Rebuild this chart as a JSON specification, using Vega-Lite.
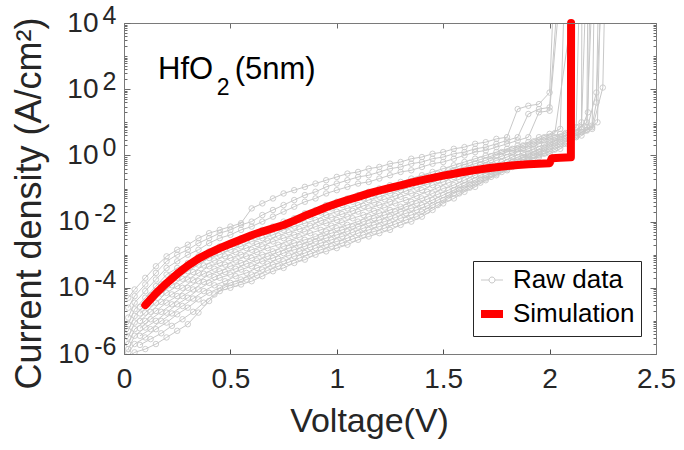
{
  "$schema": "https://vega.github.io/schema/vega-lite/v6.json",
  "width": 532,
  "height": 331,
  "autosize": {"type": "none"},
  "padding": {"left": 124, "top": 23, "right": 28, "bottom": 96},
  "background": "white",
  "config": {
    "view": {"stroke": "#7a7a7a", "strokeWidth": 1},
    "font": "Liberation Sans",
    "axis": {"grid": false, "labelFont": "Liberation Sans", "titleFont": "Liberation Sans", "titleFontWeight": "normal", "labelColor": "#262626", "titleColor": "#262626", "domainColor": "#7a7a7a", "tickColor": "#6a6a6a", "domainWidth": 1, "tickWidth": 1, "labelFlush": false, "labelOverlap": false}
  },
  "datasets": {
    "raw": [
      {"c":1,"v":0.02,"j":5.01e-5},{"c":1,"v":0.05,"j":8.91e-5},{"c":1,"v":0.1,"j":2.0e-4},{"c":1,"v":0.15,"j":4.47e-4},{"c":1,"v":0.2,"j":8.91e-4},{"c":1,"v":0.25,"j":1.41e-3},{"c":1,"v":0.3,"j":2.0e-3},{"c":1,"v":0.35,"j":3.16e-3},{"c":1,"v":0.4,"j":4.47e-3},{"c":1,"v":0.45,"j":5.62e-3},{"c":1,"v":0.5,"j":7.08e-3},{"c":1,"v":0.55,"j":8.91e-3},{"c":1,"v":0.6,"j":2.51e-2},{"c":1,"v":0.65,"j":3.55e-2},{"c":1,"v":0.7,"j":5.01e-2},{"c":1,"v":0.75,"j":7.08e-2},{"c":1,"v":0.8,"j":8.91e-2},{"c":1,"v":0.85,"j":0.112},{"c":1,"v":0.9,"j":0.141},{"c":1,"v":0.95,"j":0.178},{"c":1,"v":1.0,"j":0.224},{"c":1,"v":1.05,"j":0.282},{"c":1,"v":1.1,"j":0.316},{"c":1,"v":1.15,"j":0.398},{"c":1,"v":1.2,"j":0.447},{"c":1,"v":1.25,"j":0.562},{"c":1,"v":1.3,"j":0.631},{"c":1,"v":1.35,"j":0.794},{"c":1,"v":1.4,"j":0.891},{"c":1,"v":1.45,"j":1.12},{"c":1,"v":1.5,"j":1.26},{"c":1,"v":1.55,"j":1.58},{"c":1,"v":1.6,"j":1.78},{"c":1,"v":1.65,"j":2.24},{"c":1,"v":1.7,"j":2.51},{"c":1,"v":1.75,"j":3.16},{"c":1,"v":1.8,"j":3.55},{"c":1,"v":1.85,"j":25.1},{"c":1,"v":1.9,"j":31.6},{"c":1,"v":1.95,"j":35.5},{"c":1,"v":2.0,"j":79.4},{"c":1,"v":2.02,"j":1e5},
      {"c":2,"v":0.02,"j":2.51e-5},{"c":2,"v":0.05,"j":5.62e-5},{"c":2,"v":0.1,"j":1.26e-4},{"c":2,"v":0.15,"j":2.82e-4},{"c":2,"v":0.2,"j":6.31e-4},{"c":2,"v":0.25,"j":1.0e-3},{"c":2,"v":0.3,"j":1.41e-3},{"c":2,"v":0.35,"j":2.24e-3},{"c":2,"v":0.4,"j":3.16e-3},{"c":2,"v":0.45,"j":4.47e-3},{"c":2,"v":0.5,"j":5.62e-3},{"c":2,"v":0.55,"j":7.94e-3},{"c":2,"v":0.6,"j":1.0e-2},{"c":2,"v":0.65,"j":1.58e-2},{"c":2,"v":0.7,"j":2.24e-2},{"c":2,"v":0.75,"j":3.16e-2},{"c":2,"v":0.8,"j":4.47e-2},{"c":2,"v":0.85,"j":6.31e-2},{"c":2,"v":0.9,"j":7.94e-2},{"c":2,"v":0.95,"j":0.112},{"c":2,"v":1.0,"j":0.141},{"c":2,"v":1.05,"j":0.178},{"c":2,"v":1.1,"j":0.224},{"c":2,"v":1.15,"j":0.251},{"c":2,"v":1.2,"j":0.316},{"c":2,"v":1.25,"j":0.398},{"c":2,"v":1.3,"j":0.447},{"c":2,"v":1.35,"j":0.562},{"c":2,"v":1.4,"j":0.631},{"c":2,"v":1.45,"j":0.794},{"c":2,"v":1.5,"j":0.891},{"c":2,"v":1.55,"j":1.12},{"c":2,"v":1.6,"j":1.26},{"c":2,"v":1.65,"j":1.58},{"c":2,"v":1.7,"j":1.78},{"c":2,"v":1.75,"j":2.24},{"c":2,"v":1.8,"j":2.82},{"c":2,"v":1.85,"j":3.55},{"c":2,"v":1.9,"j":17.8},{"c":2,"v":1.95,"j":25.1},{"c":2,"v":2.0,"j":28.2},{"c":2,"v":2.04,"j":1e5},
      {"c":3,"v":0.02,"j":1.26e-5},{"c":3,"v":0.05,"j":3.55e-5},{"c":3,"v":0.1,"j":7.94e-5},{"c":3,"v":0.15,"j":1.78e-4},{"c":3,"v":0.2,"j":3.98e-4},{"c":3,"v":0.25,"j":6.31e-4},{"c":3,"v":0.3,"j":1.0e-3},{"c":3,"v":0.35,"j":1.41e-3},{"c":3,"v":0.4,"j":2.24e-3},{"c":3,"v":0.45,"j":3.16e-3},{"c":3,"v":0.5,"j":3.98e-3},{"c":3,"v":0.55,"j":5.62e-3},{"c":3,"v":0.6,"j":7.08e-3},{"c":3,"v":0.65,"j":1.0e-2},{"c":3,"v":0.7,"j":1.41e-2},{"c":3,"v":0.75,"j":2.0e-2},{"c":3,"v":0.8,"j":2.82e-2},{"c":3,"v":0.85,"j":3.98e-2},{"c":3,"v":0.9,"j":5.01e-2},{"c":3,"v":0.95,"j":7.08e-2},{"c":3,"v":1.0,"j":8.91e-2},{"c":3,"v":1.05,"j":0.112},{"c":3,"v":1.1,"j":0.141},{"c":3,"v":1.15,"j":0.158},{"c":3,"v":1.2,"j":0.2},{"c":3,"v":1.25,"j":0.251},{"c":3,"v":1.3,"j":0.316},{"c":3,"v":1.35,"j":0.355},{"c":3,"v":1.4,"j":0.447},{"c":3,"v":1.45,"j":0.562},{"c":3,"v":1.5,"j":0.631},{"c":3,"v":1.55,"j":0.794},{"c":3,"v":1.6,"j":1.0},{"c":3,"v":1.65,"j":1.26},{"c":3,"v":1.7,"j":1.41},{"c":3,"v":1.75,"j":1.78},{"c":3,"v":1.8,"j":2.24},{"c":3,"v":1.85,"j":2.82},{"c":3,"v":1.9,"j":3.55},{"c":3,"v":1.95,"j":20.0},{"c":3,"v":2.0,"j":22.4},{"c":3,"v":2.05,"j":1e5},
      {"c":4,"v":0.02,"j":7.94e-6},{"c":4,"v":0.05,"j":2.24e-5},{"c":4,"v":0.1,"j":5.01e-5},{"c":4,"v":0.15,"j":1.12e-4},{"c":4,"v":0.2,"j":2.51e-4},{"c":4,"v":0.25,"j":3.98e-4},{"c":4,"v":0.3,"j":5.62e-4},{"c":4,"v":0.35,"j":8.91e-4},{"c":4,"v":0.4,"j":1.26e-3},{"c":4,"v":0.45,"j":1.78e-3},{"c":4,"v":0.5,"j":2.24e-3},{"c":4,"v":0.55,"j":3.16e-3},{"c":4,"v":0.6,"j":3.98e-3},{"c":4,"v":0.65,"j":5.62e-3},{"c":4,"v":0.7,"j":7.08e-3},{"c":4,"v":0.75,"j":1.0e-2},{"c":4,"v":0.8,"j":1.26e-2},{"c":4,"v":0.85,"j":1.78e-2},{"c":4,"v":0.9,"j":2.24e-2},{"c":4,"v":0.95,"j":3.16e-2},{"c":4,"v":1.0,"j":3.98e-2},{"c":4,"v":1.05,"j":5.01e-2},{"c":4,"v":1.1,"j":6.31e-2},{"c":4,"v":1.15,"j":7.94e-2},{"c":4,"v":1.2,"j":0.1},{"c":4,"v":1.25,"j":0.126},{"c":4,"v":1.3,"j":0.158},{"c":4,"v":1.35,"j":0.2},{"c":4,"v":1.4,"j":0.251},{"c":4,"v":1.45,"j":0.316},{"c":4,"v":1.5,"j":0.398},{"c":4,"v":1.55,"j":0.501},{"c":4,"v":1.6,"j":0.631},{"c":4,"v":1.65,"j":0.794},{"c":4,"v":1.7,"j":1.0},{"c":4,"v":1.75,"j":1.26},{"c":4,"v":1.8,"j":1.58},{"c":4,"v":1.85,"j":2.0},{"c":4,"v":1.9,"j":2.51},{"c":4,"v":1.95,"j":3.55},{"c":4,"v":2.0,"j":4.47},{"c":4,"v":2.05,"j":6.31},{"c":4,"v":2.07,"j":1e5},
      {"c":5,"v":0.02,"j":5.01e-6},{"c":5,"v":0.05,"j":1.41e-5},{"c":5,"v":0.1,"j":3.16e-5},{"c":5,"v":0.15,"j":6.31e-5},{"c":5,"v":0.2,"j":1.26e-4},{"c":5,"v":0.25,"j":2.0e-4},{"c":5,"v":0.3,"j":3.16e-4},{"c":5,"v":0.35,"j":5.01e-4},{"c":5,"v":0.4,"j":7.94e-4},{"c":5,"v":0.45,"j":1.0e-3},{"c":5,"v":0.5,"j":1.41e-3},{"c":5,"v":0.55,"j":1.78e-3},{"c":5,"v":0.6,"j":2.51e-3},{"c":5,"v":0.65,"j":3.16e-3},{"c":5,"v":0.7,"j":3.98e-3},{"c":5,"v":0.75,"j":5.62e-3},{"c":5,"v":0.8,"j":7.08e-3},{"c":5,"v":0.85,"j":8.91e-3},{"c":5,"v":0.9,"j":1.12e-2},{"c":5,"v":0.95,"j":1.58e-2},{"c":5,"v":1.0,"j":2.0e-2},{"c":5,"v":1.05,"j":2.51e-2},{"c":5,"v":1.1,"j":3.16e-2},{"c":5,"v":1.15,"j":4.47e-2},{"c":5,"v":1.2,"j":5.62e-2},{"c":5,"v":1.25,"j":7.08e-2},{"c":5,"v":1.3,"j":8.91e-2},{"c":5,"v":1.35,"j":0.126},{"c":5,"v":1.4,"j":0.158},{"c":5,"v":1.45,"j":0.2},{"c":5,"v":1.5,"j":0.251},{"c":5,"v":1.55,"j":0.355},{"c":5,"v":1.6,"j":0.447},{"c":5,"v":1.65,"j":0.562},{"c":5,"v":1.7,"j":0.708},{"c":5,"v":1.75,"j":1.0},{"c":5,"v":1.8,"j":1.26},{"c":5,"v":1.85,"j":1.58},{"c":5,"v":1.9,"j":2.0},{"c":5,"v":1.95,"j":2.82},{"c":5,"v":2.0,"j":3.55},{"c":5,"v":2.05,"j":4.47},{"c":5,"v":2.1,"j":6.31},{"c":5,"v":2.15,"j":10.0},{"c":5,"v":2.152,"j":1e5},
      {"c":6,"v":0.02,"j":3.16e-6},{"c":6,"v":0.05,"j":8.91e-6},{"c":6,"v":0.1,"j":1.78e-5},{"c":6,"v":0.15,"j":3.55e-5},{"c":6,"v":0.2,"j":7.08e-5},{"c":6,"v":0.25,"j":1.12e-4},{"c":6,"v":0.3,"j":1.78e-4},{"c":6,"v":0.35,"j":2.82e-4},{"c":6,"v":0.4,"j":4.47e-4},{"c":6,"v":0.45,"j":5.62e-4},{"c":6,"v":0.5,"j":7.94e-4},{"c":6,"v":0.55,"j":1.0e-3},{"c":6,"v":0.6,"j":1.41e-3},{"c":6,"v":0.65,"j":1.78e-3},{"c":6,"v":0.7,"j":2.51e-3},{"c":6,"v":0.75,"j":3.16e-3},{"c":6,"v":0.8,"j":3.98e-3},{"c":6,"v":0.85,"j":5.01e-3},{"c":6,"v":0.9,"j":7.08e-3},{"c":6,"v":0.95,"j":8.91e-3},{"c":6,"v":1.0,"j":1.12e-2},{"c":6,"v":1.05,"j":1.41e-2},{"c":6,"v":1.1,"j":2.0e-2},{"c":6,"v":1.15,"j":2.51e-2},{"c":6,"v":1.2,"j":3.16e-2},{"c":6,"v":1.25,"j":3.98e-2},{"c":6,"v":1.3,"j":5.62e-2},{"c":6,"v":1.35,"j":7.08e-2},{"c":6,"v":1.4,"j":8.91e-2},{"c":6,"v":1.45,"j":0.126},{"c":6,"v":1.5,"j":0.158},{"c":6,"v":1.55,"j":0.224},{"c":6,"v":1.6,"j":0.282},{"c":6,"v":1.65,"j":0.398},{"c":6,"v":1.7,"j":0.501},{"c":6,"v":1.75,"j":0.708},{"c":6,"v":1.8,"j":0.891},{"c":6,"v":1.85,"j":1.26},{"c":6,"v":1.9,"j":1.58},{"c":6,"v":1.95,"j":2.24},{"c":6,"v":2.0,"j":2.82},{"c":6,"v":2.05,"j":3.55},{"c":6,"v":2.1,"j":5.01},{"c":6,"v":2.15,"j":7.08},{"c":6,"v":2.17,"j":1e5},
      {"c":7,"v":0.02,"j":2.0e-6},{"c":7,"v":0.05,"j":5.62e-6},{"c":7,"v":0.1,"j":1.0e-5},{"c":7,"v":0.15,"j":2.0e-5},{"c":7,"v":0.2,"j":3.55e-5},{"c":7,"v":0.25,"j":5.62e-5},{"c":7,"v":0.3,"j":1.0e-4},{"c":7,"v":0.35,"j":1.58e-4},{"c":7,"v":0.4,"j":2.51e-4},{"c":7,"v":0.45,"j":3.16e-4},{"c":7,"v":0.5,"j":4.47e-4},{"c":7,"v":0.55,"j":5.62e-4},{"c":7,"v":0.6,"j":7.94e-4},{"c":7,"v":0.65,"j":1.0e-3},{"c":7,"v":0.7,"j":1.26e-3},{"c":7,"v":0.75,"j":1.78e-3},{"c":7,"v":0.8,"j":2.24e-3},{"c":7,"v":0.85,"j":2.82e-3},{"c":7,"v":0.9,"j":3.55e-3},{"c":7,"v":0.95,"j":5.01e-3},{"c":7,"v":1.0,"j":6.31e-3},{"c":7,"v":1.05,"j":7.94e-3},{"c":7,"v":1.1,"j":1.0e-2},{"c":7,"v":1.15,"j":1.41e-2},{"c":7,"v":1.2,"j":1.78e-2},{"c":7,"v":1.25,"j":2.24e-2},{"c":7,"v":1.3,"j":2.82e-2},{"c":7,"v":1.35,"j":3.98e-2},{"c":7,"v":1.4,"j":5.01e-2},{"c":7,"v":1.45,"j":7.08e-2},{"c":7,"v":1.5,"j":0.1},{"c":7,"v":1.55,"j":0.126},{"c":7,"v":1.6,"j":0.178},{"c":7,"v":1.65,"j":0.251},{"c":7,"v":1.7,"j":0.355},{"c":7,"v":1.75,"j":0.447},{"c":7,"v":1.8,"j":0.631},{"c":7,"v":1.85,"j":0.891},{"c":7,"v":1.9,"j":1.12},{"c":7,"v":1.95,"j":1.58},{"c":7,"v":2.0,"j":2.24},{"c":7,"v":2.05,"j":3.16},{"c":7,"v":2.1,"j":4.47},{"c":7,"v":2.15,"j":6.31},{"c":7,"v":2.18,"j":20.0},{"c":7,"v":2.19,"j":1e5},
      {"c":8,"v":0.02,"j":1.41e-6},{"c":8,"v":0.05,"j":3.55e-6},{"c":8,"v":0.1,"j":6.31e-6},{"c":8,"v":0.15,"j":1.0e-5},{"c":8,"v":0.2,"j":1.78e-5},{"c":8,"v":0.25,"j":3.16e-5},{"c":8,"v":0.3,"j":5.01e-5},{"c":8,"v":0.35,"j":8.91e-5},{"c":8,"v":0.4,"j":1.41e-4},{"c":8,"v":0.45,"j":2.0e-4},{"c":8,"v":0.5,"j":2.51e-4},{"c":8,"v":0.55,"j":3.55e-4},{"c":8,"v":0.6,"j":4.47e-4},{"c":8,"v":0.65,"j":6.31e-4},{"c":8,"v":0.7,"j":7.94e-4},{"c":8,"v":0.75,"j":1.12e-3},{"c":8,"v":0.8,"j":1.41e-3},{"c":8,"v":0.85,"j":1.78e-3},{"c":8,"v":0.9,"j":2.51e-3},{"c":8,"v":0.95,"j":3.16e-3},{"c":8,"v":1.0,"j":3.98e-3},{"c":8,"v":1.05,"j":5.01e-3},{"c":8,"v":1.1,"j":7.08e-3},{"c":8,"v":1.15,"j":8.91e-3},{"c":8,"v":1.2,"j":1.12e-2},{"c":8,"v":1.25,"j":1.41e-2},{"c":8,"v":1.3,"j":2.0e-2},{"c":8,"v":1.35,"j":2.51e-2},{"c":8,"v":1.4,"j":3.16e-2},{"c":8,"v":1.45,"j":4.47e-2},{"c":8,"v":1.5,"j":6.31e-2},{"c":8,"v":1.55,"j":8.91e-2},{"c":8,"v":1.6,"j":0.126},{"c":8,"v":1.65,"j":0.178},{"c":8,"v":1.7,"j":0.251},{"c":8,"v":1.75,"j":0.355},{"c":8,"v":1.8,"j":0.501},{"c":8,"v":1.85,"j":0.708},{"c":8,"v":1.9,"j":1.0},{"c":8,"v":1.95,"j":1.26},{"c":8,"v":2.0,"j":1.78},{"c":8,"v":2.05,"j":2.51},{"c":8,"v":2.1,"j":3.55},{"c":8,"v":2.15,"j":5.01},{"c":8,"v":2.2,"j":7.08},{"c":8,"v":2.21,"j":1e5},
      {"c":9,"v":0.02,"j":1.12e-6},{"c":9,"v":0.05,"j":2.0e-6},{"c":9,"v":0.1,"j":3.16e-6},{"c":9,"v":0.15,"j":5.62e-6},{"c":9,"v":0.2,"j":8.91e-6},{"c":9,"v":0.25,"j":1.58e-5},{"c":9,"v":0.3,"j":2.51e-5},{"c":9,"v":0.35,"j":4.47e-5},{"c":9,"v":0.4,"j":7.08e-5},{"c":9,"v":0.45,"j":1.0e-4},{"c":9,"v":0.5,"j":1.41e-4},{"c":9,"v":0.55,"j":1.78e-4},{"c":9,"v":0.6,"j":2.51e-4},{"c":9,"v":0.65,"j":3.55e-4},{"c":9,"v":0.7,"j":5.01e-4},{"c":9,"v":0.75,"j":6.31e-4},{"c":9,"v":0.8,"j":8.91e-4},{"c":9,"v":0.85,"j":1.12e-3},{"c":9,"v":0.9,"j":1.58e-3},{"c":9,"v":0.95,"j":2.0e-3},{"c":9,"v":1.0,"j":2.51e-3},{"c":9,"v":1.05,"j":3.16e-3},{"c":9,"v":1.1,"j":4.47e-3},{"c":9,"v":1.15,"j":5.62e-3},{"c":9,"v":1.2,"j":7.08e-3},{"c":9,"v":1.25,"j":8.91e-3},{"c":9,"v":1.3,"j":1.26e-2},{"c":9,"v":1.35,"j":1.58e-2},{"c":9,"v":1.4,"j":2.0e-2},{"c":9,"v":1.45,"j":3.16e-2},{"c":9,"v":1.5,"j":4.47e-2},{"c":9,"v":1.55,"j":7.08e-2},{"c":9,"v":1.6,"j":0.1},{"c":9,"v":1.65,"j":0.141},{"c":9,"v":1.7,"j":0.2},{"c":9,"v":1.75,"j":0.282},{"c":9,"v":1.8,"j":0.398},{"c":9,"v":1.85,"j":0.562},{"c":9,"v":1.9,"j":0.794},{"c":9,"v":1.95,"j":1.0},{"c":9,"v":2.0,"j":1.41},{"c":9,"v":2.05,"j":2.0},{"c":9,"v":2.1,"j":3.16},{"c":9,"v":2.15,"j":5.01},{"c":9,"v":2.2,"j":7.94},{"c":9,"v":2.22,"j":39.8},{"c":9,"v":2.23,"j":1e5},
      {"c":10,"v":0.02,"j":7.94e-7},{"c":10,"v":0.05,"j":1.12e-6},{"c":10,"v":0.1,"j":1.41e-6},{"c":10,"v":0.15,"j":2.0e-6},{"c":10,"v":0.2,"j":3.16e-6},{"c":10,"v":0.25,"j":5.01e-6},{"c":10,"v":0.3,"j":7.94e-6},{"c":10,"v":0.35,"j":1.78e-5},{"c":10,"v":0.4,"j":3.98e-5},{"c":10,"v":0.45,"j":7.94e-5},{"c":10,"v":0.5,"j":1.0e-4},{"c":10,"v":0.55,"j":1.26e-4},{"c":10,"v":0.6,"j":1.58e-4},{"c":10,"v":0.65,"j":2.24e-4},{"c":10,"v":0.7,"j":3.16e-4},{"c":10,"v":0.75,"j":3.98e-4},{"c":10,"v":0.8,"j":5.62e-4},{"c":10,"v":0.85,"j":7.08e-4},{"c":10,"v":0.9,"j":1.0e-3},{"c":10,"v":0.95,"j":1.26e-3},{"c":10,"v":1.0,"j":1.58e-3},{"c":10,"v":1.05,"j":2.0e-3},{"c":10,"v":1.1,"j":2.82e-3},{"c":10,"v":1.15,"j":3.55e-3},{"c":10,"v":1.2,"j":4.47e-3},{"c":10,"v":1.25,"j":5.62e-3},{"c":10,"v":1.3,"j":7.94e-3},{"c":10,"v":1.35,"j":1.0e-2},{"c":10,"v":1.4,"j":1.41e-2},{"c":10,"v":1.45,"j":2.24e-2},{"c":10,"v":1.5,"j":3.55e-2},{"c":10,"v":1.55,"j":5.01e-2},{"c":10,"v":1.6,"j":7.94e-2},{"c":10,"v":1.65,"j":0.112},{"c":10,"v":1.7,"j":0.178},{"c":10,"v":1.75,"j":0.251},{"c":10,"v":1.8,"j":0.355},{"c":10,"v":1.85,"j":0.501},{"c":10,"v":1.9,"j":0.708},{"c":10,"v":1.95,"j":0.891},{"c":10,"v":2.0,"j":1.12},{"c":10,"v":2.05,"j":1.58},{"c":10,"v":2.1,"j":2.51},{"c":10,"v":2.15,"j":3.98},{"c":10,"v":2.2,"j":6.31},{"c":10,"v":2.25,"j":112},{"c":10,"v":2.26,"j":1e5},
      {"c":11,"v":0.075,"j":2.66e-5},{"c":11,"v":0.125,"j":5.96e-5},{"c":11,"v":0.175,"j":1.26e-4},{"c":11,"v":0.225,"j":2.24e-4},{"c":11,"v":0.275,"j":3.35e-4},{"c":11,"v":0.325,"j":5.31e-4},{"c":11,"v":0.375,"j":7.94e-4},{"c":11,"v":0.425,"j":1.19e-3},{"c":11,"v":0.475,"j":1.5e-3},{"c":11,"v":0.525,"j":2.11e-3},{"c":11,"v":0.575,"j":2.66e-3},{"c":11,"v":0.625,"j":3.76e-3},{"c":11,"v":0.675,"j":4.73e-3},{"c":11,"v":0.725,"j":6.31e-3},{"c":11,"v":0.775,"j":8.41e-3},{"c":11,"v":0.825,"j":1.12e-2},{"c":11,"v":0.875,"j":1.41e-2},{"c":11,"v":0.925,"j":1.88e-2},{"c":11,"v":0.975,"j":2.51e-2},{"c":11,"v":1.025,"j":3.16e-2},{"c":11,"v":1.075,"j":3.98e-2},{"c":11,"v":1.125,"j":5.01e-2},{"c":11,"v":1.175,"j":6.68e-2},{"c":11,"v":1.225,"j":8.41e-2},{"c":11,"v":1.275,"j":0.106},{"c":11,"v":1.325,"j":0.133},{"c":11,"v":1.375,"j":0.178},{"c":11,"v":1.425,"j":0.224},{"c":11,"v":1.475,"j":0.282},{"c":11,"v":1.525,"j":0.355},{"c":11,"v":1.575,"j":0.473},{"c":11,"v":1.625,"j":0.596},{"c":11,"v":1.675,"j":0.75},{"c":11,"v":1.725,"j":0.944},{"c":11,"v":1.775,"j":1.26},{"c":11,"v":1.825,"j":1.58},{"c":11,"v":1.875,"j":2.0},{"c":11,"v":1.925,"j":2.66},{"c":11,"v":1.975,"j":3.55},{"c":11,"v":2.025,"j":4.73},{"c":11,"v":2.12,"j":1e5},
      {"c":12,"v":0.075,"j":1.68e-5},{"c":12,"v":0.125,"j":3.35e-5},{"c":12,"v":0.175,"j":6.68e-5},{"c":12,"v":0.225,"j":1.19e-4},{"c":12,"v":0.275,"j":1.88e-4},{"c":12,"v":0.325,"j":2.99e-4},{"c":12,"v":0.375,"j":4.73e-4},{"c":12,"v":0.425,"j":6.68e-4},{"c":12,"v":0.475,"j":8.91e-4},{"c":12,"v":0.525,"j":1.19e-3},{"c":12,"v":0.575,"j":1.58e-3},{"c":12,"v":0.625,"j":2.11e-3},{"c":12,"v":0.675,"j":2.66e-3},{"c":12,"v":0.725,"j":3.76e-3},{"c":12,"v":0.775,"j":4.73e-3},{"c":12,"v":0.825,"j":5.96e-3},{"c":12,"v":0.875,"j":7.5e-3},{"c":12,"v":0.925,"j":1.06e-2},{"c":12,"v":0.975,"j":1.33e-2},{"c":12,"v":1.025,"j":1.68e-2},{"c":12,"v":1.075,"j":2.11e-2},{"c":12,"v":1.125,"j":2.99e-2},{"c":12,"v":1.175,"j":3.76e-2},{"c":12,"v":1.225,"j":4.73e-2},{"c":12,"v":1.275,"j":5.96e-2},{"c":12,"v":1.325,"j":8.41e-2},{"c":12,"v":1.375,"j":0.106},{"c":12,"v":1.425,"j":0.133},{"c":12,"v":1.475,"j":0.178},{"c":12,"v":1.525,"j":0.237},{"c":12,"v":1.575,"j":0.316},{"c":12,"v":1.625,"j":0.398},{"c":12,"v":1.675,"j":0.531},{"c":12,"v":1.725,"j":0.708},{"c":12,"v":1.775,"j":0.944},{"c":12,"v":1.825,"j":1.19},{"c":12,"v":1.875,"j":1.58},{"c":12,"v":1.925,"j":2.11},{"c":12,"v":1.975,"j":2.82},{"c":12,"v":2.025,"j":3.55},{"c":12,"v":2.075,"j":4.73},{"c":12,"v":2.125,"j":7.08},{"c":12,"v":2.14,"j":1e5},
      {"c":13,"v":0.075,"j":1.0e-5},{"c":13,"v":0.125,"j":1.88e-5},{"c":13,"v":0.175,"j":3.76e-5},{"c":13,"v":0.225,"j":6.31e-5},{"c":13,"v":0.275,"j":1.0e-4},{"c":13,"v":0.325,"j":1.68e-4},{"c":13,"v":0.375,"j":2.66e-4},{"c":13,"v":0.425,"j":3.76e-4},{"c":13,"v":0.475,"j":5.01e-4},{"c":13,"v":0.525,"j":6.68e-4},{"c":13,"v":0.575,"j":8.91e-4},{"c":13,"v":0.625,"j":1.19e-3},{"c":13,"v":0.675,"j":1.58e-3},{"c":13,"v":0.725,"j":2.0e-3},{"c":13,"v":0.775,"j":2.66e-3},{"c":13,"v":0.825,"j":3.35e-3},{"c":13,"v":0.875,"j":4.47e-3},{"c":13,"v":0.925,"j":5.62e-3},{"c":13,"v":0.975,"j":7.5e-3},{"c":13,"v":1.025,"j":9.44e-3},{"c":13,"v":1.075,"j":1.26e-2},{"c":13,"v":1.125,"j":1.58e-2},{"c":13,"v":1.175,"j":2.11e-2},{"c":13,"v":1.225,"j":2.66e-2},{"c":13,"v":1.275,"j":3.55e-2},{"c":13,"v":1.325,"j":4.47e-2},{"c":13,"v":1.375,"j":5.96e-2},{"c":13,"v":1.425,"j":7.94e-2},{"c":13,"v":1.475,"j":0.106},{"c":13,"v":1.525,"j":0.15},{"c":13,"v":1.575,"j":0.188},{"c":13,"v":1.625,"j":0.266},{"c":13,"v":1.675,"j":0.355},{"c":13,"v":1.725,"j":0.501},{"c":13,"v":1.775,"j":0.631},{"c":13,"v":1.825,"j":0.891},{"c":13,"v":1.875,"j":1.19},{"c":13,"v":1.925,"j":1.58},{"c":13,"v":1.975,"j":2.11},{"c":13,"v":2.025,"j":2.82},{"c":13,"v":2.075,"j":3.98},{"c":13,"v":2.125,"j":5.62},{"c":13,"v":2.175,"j":10.0},{"c":13,"v":2.18,"j":1e5},
      {"c":14,"v":0.075,"j":5.96e-6},{"c":14,"v":0.125,"j":1.12e-5},{"c":14,"v":0.175,"j":1.88e-5},{"c":14,"v":0.225,"j":3.16e-5},{"c":14,"v":0.275,"j":5.62e-5},{"c":14,"v":0.325,"j":8.91e-5},{"c":14,"v":0.375,"j":1.5e-4},{"c":14,"v":0.425,"j":2.11e-4},{"c":14,"v":0.475,"j":2.99e-4},{"c":14,"v":0.525,"j":3.76e-4},{"c":14,"v":0.575,"j":5.31e-4},{"c":14,"v":0.625,"j":6.68e-4},{"c":14,"v":0.675,"j":8.91e-4},{"c":14,"v":0.725,"j":1.19e-3},{"c":14,"v":0.775,"j":1.58e-3},{"c":14,"v":0.825,"j":2.0e-3},{"c":14,"v":0.875,"j":2.51e-3},{"c":14,"v":0.925,"j":3.55e-3},{"c":14,"v":0.975,"j":4.47e-3},{"c":14,"v":1.025,"j":5.62e-3},{"c":14,"v":1.075,"j":7.08e-3},{"c":14,"v":1.125,"j":1.0e-2},{"c":14,"v":1.175,"j":1.26e-2},{"c":14,"v":1.225,"j":1.58e-2},{"c":14,"v":1.275,"j":2.0e-2},{"c":14,"v":1.325,"j":2.82e-2},{"c":14,"v":1.375,"j":3.55e-2},{"c":14,"v":1.425,"j":4.73e-2},{"c":14,"v":1.475,"j":6.68e-2},{"c":14,"v":1.525,"j":8.91e-2},{"c":14,"v":1.575,"j":0.126},{"c":14,"v":1.625,"j":0.178},{"c":14,"v":1.675,"j":0.251},{"c":14,"v":1.725,"j":0.335},{"c":14,"v":1.775,"j":0.473},{"c":14,"v":1.825,"j":0.668},{"c":14,"v":1.875,"j":0.891},{"c":14,"v":1.925,"j":1.26},{"c":14,"v":1.975,"j":1.68},{"c":14,"v":2.025,"j":2.37},{"c":14,"v":2.075,"j":3.35},{"c":14,"v":2.125,"j":4.73},{"c":14,"v":2.175,"j":7.08},{"c":14,"v":2.2,"j":1e5},
      {"c":15,"v":0.075,"j":3.55e-6},{"c":15,"v":0.125,"j":5.62e-6},{"c":15,"v":0.175,"j":1.0e-5},{"c":15,"v":0.225,"j":1.68e-5},{"c":15,"v":0.275,"j":2.82e-5},{"c":15,"v":0.325,"j":4.73e-5},{"c":15,"v":0.375,"j":7.94e-5},{"c":15,"v":0.425,"j":1.19e-4},{"c":15,"v":0.475,"j":1.58e-4},{"c":15,"v":0.525,"j":2.24e-4},{"c":15,"v":0.575,"j":2.82e-4},{"c":15,"v":0.625,"j":3.98e-4},{"c":15,"v":0.675,"j":5.31e-4},{"c":15,"v":0.725,"j":7.5e-4},{"c":15,"v":0.775,"j":9.44e-4},{"c":15,"v":0.825,"j":1.26e-3},{"c":15,"v":0.875,"j":1.68e-3},{"c":15,"v":0.925,"j":2.24e-3},{"c":15,"v":0.975,"j":2.82e-3},{"c":15,"v":1.025,"j":3.55e-3},{"c":15,"v":1.075,"j":4.73e-3},{"c":15,"v":1.125,"j":6.31e-3},{"c":15,"v":1.175,"j":7.94e-3},{"c":15,"v":1.225,"j":1.0e-2},{"c":15,"v":1.275,"j":1.33e-2},{"c":15,"v":1.325,"j":1.78e-2},{"c":15,"v":1.375,"j":2.24e-2},{"c":15,"v":1.425,"j":2.99e-2},{"c":15,"v":1.475,"j":4.47e-2},{"c":15,"v":1.525,"j":6.31e-2},{"c":15,"v":1.575,"j":9.44e-2},{"c":15,"v":1.625,"j":0.133},{"c":15,"v":1.675,"j":0.188},{"c":15,"v":1.725,"j":0.266},{"c":15,"v":1.775,"j":0.376},{"c":15,"v":1.825,"j":0.531},{"c":15,"v":1.875,"j":0.75},{"c":15,"v":1.925,"j":1.0},{"c":15,"v":1.975,"j":1.33},{"c":15,"v":2.025,"j":1.88},{"c":15,"v":2.075,"j":2.66},{"c":15,"v":2.125,"j":3.98},{"c":15,"v":2.175,"j":5.96},{"c":15,"v":2.22,"j":79.4},{"c":15,"v":2.245,"j":1e5},
      {"c":16,"v":0.075,"j":1.88e-6},{"c":16,"v":0.125,"j":2.82e-6},{"c":16,"v":0.175,"j":4.22e-6},{"c":16,"v":0.225,"j":7.08e-6},{"c":16,"v":0.275,"j":1.12e-5},{"c":16,"v":0.325,"j":1.88e-5},{"c":16,"v":0.375,"j":3.55e-5},{"c":16,"v":0.425,"j":6.31e-5},{"c":16,"v":0.475,"j":1.06e-4},{"c":16,"v":0.525,"j":1.33e-4},{"c":16,"v":0.575,"j":1.78e-4},{"c":16,"v":0.625,"j":2.37e-4},{"c":16,"v":0.675,"j":3.35e-4},{"c":16,"v":0.725,"j":4.47e-4},{"c":16,"v":0.775,"j":5.96e-4},{"c":16,"v":0.825,"j":7.94e-4},{"c":16,"v":0.875,"j":1.06e-3},{"c":16,"v":0.925,"j":1.41e-3},{"c":16,"v":0.975,"j":1.78e-3},{"c":16,"v":1.025,"j":2.24e-3},{"c":16,"v":1.075,"j":2.99e-3},{"c":16,"v":1.125,"j":3.98e-3},{"c":16,"v":1.175,"j":5.01e-3},{"c":16,"v":1.225,"j":6.31e-3},{"c":16,"v":1.275,"j":8.41e-3},{"c":16,"v":1.325,"j":1.12e-2},{"c":16,"v":1.375,"j":1.41e-2},{"c":16,"v":1.425,"j":2.11e-2},{"c":16,"v":1.475,"j":3.16e-2},{"c":16,"v":1.525,"j":5.01e-2},{"c":16,"v":1.575,"j":7.08e-2},{"c":16,"v":1.625,"j":0.106},{"c":16,"v":1.675,"j":0.15},{"c":16,"v":1.725,"j":0.224},{"c":16,"v":1.775,"j":0.316},{"c":16,"v":1.825,"j":0.447},{"c":16,"v":1.875,"j":0.631},{"c":16,"v":1.925,"j":0.841},{"c":16,"v":1.975,"j":1.12},{"c":16,"v":2.025,"j":1.5},{"c":16,"v":2.075,"j":2.24},{"c":16,"v":2.125,"j":3.55},{"c":16,"v":2.175,"j":5.62},{"c":16,"v":2.225,"j":10.0},{"c":16,"v":2.24,"j":1e5}
    ],
    "sim": [
      {"v":0.1,"j":3.0e-5},{"v":0.15,"j":6.8e-5},{"v":0.2,"j":1.38e-4},{"v":0.25,"j":2.63e-4},{"v":0.3,"j":4.68e-4},{"v":0.35,"j":7.6e-4},{"v":0.4,"j":1.12e-3},{"v":0.45,"j":1.58e-3},{"v":0.5,"j":2.14e-3},{"v":0.55,"j":2.88e-3},{"v":0.6,"j":3.89e-3},{"v":0.65,"j":5.0e-3},{"v":0.7,"j":6.3e-3},{"v":0.75,"j":7.9e-3},{"v":0.8,"j":1.07e-2},{"v":0.85,"j":1.5e-2},{"v":0.9,"j":2.0e-2},{"v":0.95,"j":2.7e-2},{"v":1.0,"j":3.5e-2},{"v":1.05,"j":4.5e-2},{"v":1.1,"j":5.6e-2},{"v":1.15,"j":7.1e-2},{"v":1.2,"j":8.7e-2},{"v":1.25,"j":0.105},{"v":1.3,"j":0.125},{"v":1.35,"j":0.15},{"v":1.4,"j":0.18},{"v":1.45,"j":0.21},{"v":1.5,"j":0.245},{"v":1.55,"j":0.28},{"v":1.6,"j":0.32},{"v":1.65,"j":0.36},{"v":1.7,"j":0.4},{"v":1.75,"j":0.44},{"v":1.8,"j":0.48},{"v":1.85,"j":0.51},{"v":1.9,"j":0.54},{"v":1.95,"j":0.56},{"v":2.0,"j":0.58},{"v":2.01,"j":0.82},{"v":2.05,"j":0.85},{"v":2.1,"j":0.88},{"v":2.101,"j":1e4}
    ]
  },
  "layer": [
    {
      "data": {"name": "raw"},
      "mark": {"type": "line", "clip": true, "strokeWidth": 1},
      "encoding": {
        "x": {"field": "v", "type": "quantitative", "scale": {"domain": [0, 2.5], "nice": false, "zero": false},
          "axis": {"orient": "bottom", "values": [0, 0.5, 1, 1.5, 2, 2.5], "format": "~g", "ticks": true, "zindex": 1, "tickSize": -5, "labelFontSize": 28, "labelPadding": 16, "tickColor": "#4d4d4d",
            "title": "Voltage(V)", "titleFontSize": 34, "titleX": 245, "titleY": 77, "titleAlign": "center", "titleBaseline": "alphabetic", "titleAnchor": null}},
        "y": {"field": "j", "type": "quantitative", "scale": {"type": "log", "domain": [1e-6, 10000], "nice": false},
          "axis": {"orient": "left", "ticks": true, "zindex": 1, "labels": false,
            "values": [1e-6,2e-6,3e-6,4e-6,5e-6,6e-6,7e-6,8e-6,9e-6,1e-5,2e-5,3e-5,4e-5,5e-5,6e-5,7e-5,8e-5,9e-5,1e-4,2e-4,3e-4,4e-4,5e-4,6e-4,7e-4,8e-4,9e-4,1e-3,2e-3,3e-3,4e-3,5e-3,6e-3,7e-3,8e-3,9e-3,0.01,0.02,0.03,0.04,0.05,0.06,0.07,0.08,0.09,0.1,0.2,0.3,0.4,0.5,0.6,0.7,0.8,0.9,1,2,3,4,5,6,7,8,9,10,20,30,40,50,60,70,80,90,100,200,300,400,500,600,700,800,900,1000,2000,3000,4000,5000,6000,7000,8000,9000,10000],
            "tickSize": {"condition": {"test": "abs(log(datum.value)/LN10/2 - round(log(datum.value)/LN10/2)) < 0.01", "value": -6}, "value": -3},
            "title": "Current density (A/cm²)", "titleFontSize": 36, "titleX": -84, "titleY": 180, "titleAlign": "center", "titleBaseline": "alphabetic", "titleAnchor": null, "titleAngle": 270}},
        "detail": {"field": "c"},
        "color": {"datum": "Raw data", "type": "nominal",
          "scale": {"domain": ["Raw data", "Simulation"], "range": ["#c8c8c8", "#ff0000"]},
          "legend": {"orient": "none", "legendX": 349, "legendY": 238, "title": null, "fillColor": "white", "strokeColor": "#262626", "padding": 6, "rowPadding": 5,
            "labelFontSize": 26, "labelFont": "Liberation Sans", "labelColor": "black", "labelOffset": 8, "symbolSize": 484,
            "encode": {"symbols": {"update": {
              "strokeWidth": {"signal": "datum.value == 'Simulation' ? 8 : 1"},
              "shape": {"signal": "datum.value == 'Simulation' ? 'stroke' : 'M-1,0H-0.27M0.27,0H1M0.27,0A0.27,0.27,0,1,1,-0.27,0A0.27,0.27,0,1,1,0.27,0'"},
              "fill": {"value": "transparent"}}}}}}
      }
    },
    {
      "data": {"name": "raw"},
      "mark": {"type": "point", "clip": true, "filled": false, "size": 30, "strokeWidth": 0.9, "color": "#c8c8c8", "opacity": 1},
      "encoding": {
        "x": {"field": "v", "type": "quantitative", "axis": {"orient": "top", "values": [0.5, 1, 1.5, 2], "labels": false, "ticks": true, "zindex": 1, "tickSize": -5, "title": null}},
        "y": {"field": "j", "type": "quantitative",
          "axis": {"orient": "right", "labels": false, "title": null, "ticks": true, "zindex": 1,
            "values": [1e-6,2e-6,3e-6,4e-6,5e-6,6e-6,7e-6,8e-6,9e-6,1e-5,2e-5,3e-5,4e-5,5e-5,6e-5,7e-5,8e-5,9e-5,1e-4,2e-4,3e-4,4e-4,5e-4,6e-4,7e-4,8e-4,9e-4,1e-3,2e-3,3e-3,4e-3,5e-3,6e-3,7e-3,8e-3,9e-3,0.01,0.02,0.03,0.04,0.05,0.06,0.07,0.08,0.09,0.1,0.2,0.3,0.4,0.5,0.6,0.7,0.8,0.9,1,2,3,4,5,6,7,8,9,10,20,30,40,50,60,70,80,90,100,200,300,400,500,600,700,800,900,1000,2000,3000,4000,5000,6000,7000,8000,9000,10000],
            "tickSize": {"condition": {"test": "abs(log(datum.value)/LN10/2 - round(log(datum.value)/LN10/2)) < 0.01", "value": -6}, "value": -3}}}
      }
    },
    {
      "data": {"name": "sim"},
      "mark": {"type": "line", "strokeWidth": 8, "strokeCap": "round", "strokeJoin": "round"},
      "encoding": {
        "x": {"field": "v", "type": "quantitative", "axis": null},
        "y": {"field": "j", "type": "quantitative",
          "axis": {"orient": "left", "values": [1, 100, 10000], "labelExpr": "'10'", "labelFontSize": 28, "labelPadding": 26, "labelBaseline": "middle", "ticks": false, "domain": false, "title": null}},
        "color": {"datum": "Simulation", "type": "nominal"}
      }
    },
    {
      "data": {"values": [{}]},
      "mark": {"type": "text", "text": "HfO", "align": "left", "baseline": "alphabetic", "fontSize": 31, "font": "Liberation Sans", "color": "black"},
      "encoding": {"x": {"datum": 0.16, "type": "quantitative", "axis": null},
        "y": {"datum": 203, "type": "quantitative",
          "axis": {"orient": "left", "values": [1e-6, 1e-4, 0.01], "labelExpr": "'10'", "labelFontSize": 28, "labelPadding": 35, "labelBaseline": "middle", "ticks": false, "domain": false, "title": null}}}
    },
    {
      "data": {"values": [{}]},
      "mark": {"type": "text", "text": "2", "align": "left", "baseline": "alphabetic", "fontSize": 23, "font": "Liberation Sans", "color": "black"},
      "encoding": {"x": {"datum": 0.436, "type": "quantitative", "axis": null},
        "y": {"datum": 66.8, "type": "quantitative",
          "axis": {"orient": "left", "values": [1e-6, 1e-4, 0.01, 1, 100, 10000], "labelExpr": "['-6','-4','-2','0','2','4'][round(log(datum.value)/LN10/2)+3]", "labelFontSize": 25, "labelPadding": 8, "labelOffset": -8, "labelBaseline": "middle", "ticks": false, "domain": false, "title": null}}}
    },
    {
      "data": {"values": [{}]},
      "mark": {"type": "text", "text": "(5nm)", "align": "left", "baseline": "alphabetic", "fontSize": 31, "font": "Liberation Sans", "color": "black"},
      "encoding": {"x": {"datum": 0.52, "type": "quantitative", "axis": null}, "y": {"datum": 203, "type": "quantitative", "axis": null}}
    }
  ],
  "resolve": {"axis": {"x": "independent", "y": "independent"}}
}
